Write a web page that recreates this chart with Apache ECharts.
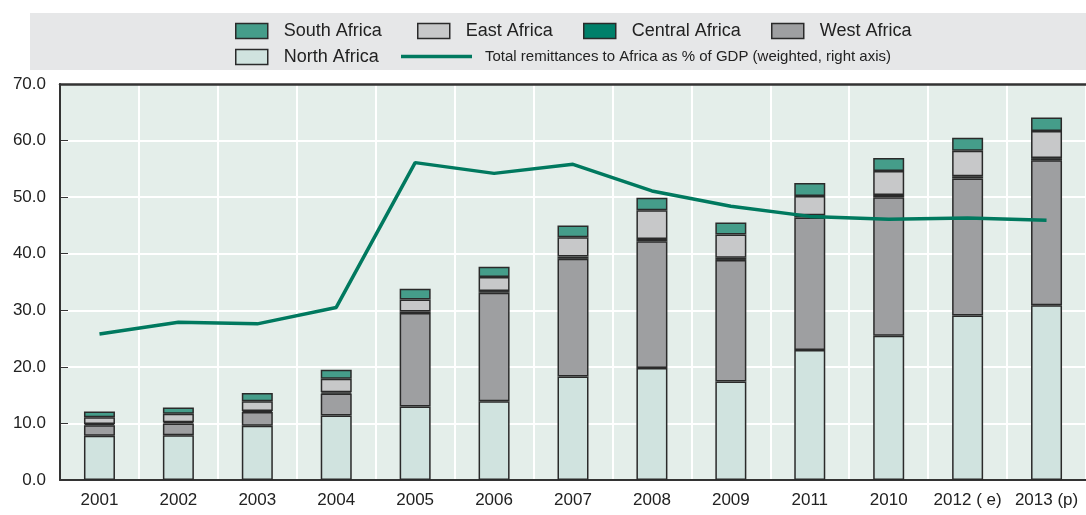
<!DOCTYPE html>
<html>
<head>
    <meta http-equiv="Content-Type" content="text/html; charset=utf-8" />
    <style type="text/css">
        body, html, #chart {width: 100%; height: 100%; overflow: hidden; margin: 0; background: #fff;}
    </style>
    <title>Remittances to Africa</title>
</head>
<body>
<div id="chart"></div>
<script src="https://cdn.jsdelivr.net/npm/echarts@6/dist/echarts.min.js"></script>
<script type="text/javascript">
    var years = ['2001', '2002', '2003', '2004', '2005', '2006', '2007', '2008', '2009', '2011', '2010', '2012 ( e)', '2013 (p)'];
    var northAfrica   = [7.8, 7.9, 9.6, 11.4, 13.0, 13.9, 18.3, 19.8, 17.4, 23.0, 25.5, 29.1, 30.9];
    var westAfrica    = [1.9, 2.1, 2.4, 3.9, 16.5, 19.2, 20.8, 22.4, 21.5, 23.4, 24.5, 24.2, 25.6];
    var centralAfrica = [0.2, 0.2, 0.2, 0.2, 0.3, 0.3, 0.4, 0.4, 0.4, 0.4, 0.4, 0.4, 0.4];
    var eastAfrica    = [1.2, 1.5, 1.7, 2.4, 2.1, 2.5, 3.4, 5.1, 4.1, 3.4, 4.2, 4.5, 4.8];
    var southAfrica   = [1.0, 1.1, 1.5, 1.6, 1.9, 1.8, 2.1, 2.2, 2.1, 2.3, 2.3, 2.3, 2.4];
    var totalPctGdp   = [25.8, 27.9, 27.6, 30.5, 56.1, 54.2, 55.8, 51.1, 48.4, 46.6, 46.1, 46.3, 45.9];
    var yTicks = [0, 10, 20, 30, 40, 50, 60, 70];

    var font = '"Liberation Sans", Arial, sans-serif';
    var lineName = 'Total remittances to Africa as % of GDP (weighted, right axis)';

    function bar(name, data, color) {
        return {
            name: name,
            type: 'bar',
            stack: 'total',
            barWidth: 31,
            data: data,
            itemStyle: {color: color, borderColor: '#2a2a2a', borderWidth: 1.5}
        };
    }

    // one legend per item so each sits where the original puts it
    function legendAt(name, left, top, size) {
        var isLine = name === lineName;
        return {
            data: [name],
            left: left,
            top: top,
            icon: 'rect',
            itemWidth: isLine ? 71 : 32,
            itemHeight: isLine ? 3.5 : 15,
            padding: 0,
            selectedMode: false,
            itemStyle: isLine ? {color: '#00795f', borderWidth: 0} : {borderColor: '#2a2a2a', borderWidth: 1.5},
            textStyle: {fontFamily: font, fontSize: size, color: '#222', padding: [0, 0, 0, isLine ? 8 : 11]}
        };
    }

    var myChart = echarts.init(document.getElementById('chart'));
    myChart.setOption({
        animation: false,
        graphic: [{
            type: 'rect',
            shape: {x: 30, y: 13, width: 1070, height: 57},
            style: {fill: '#e6e7e8'},
            z: -10
        }],
        legend: [
            legendAt('South Africa', 235, 22, 18),
            legendAt('East Africa', 417, 22, 18),
            legendAt('Central Africa', 583, 22, 18),
            legendAt('West Africa', 771, 22, 18),
            legendAt('North Africa', 235, 48, 18),
            legendAt(lineName, 401, 49, 15)
        ],
        grid: {
            left: 60, right: -2, top: 84, bottom: 35,
            show: true,
            backgroundColor: '#e4eeea',
            borderWidth: 0
        },
        xAxis: [{
            type: 'category',
            data: years,
            boundaryGap: true,
            axisLine: {lineStyle: {color: '#333', width: 2}},
            axisTick: {inside: true, length: 6, interval: 0, lineStyle: {color: '#333'}},
            splitLine: {show: true, interval: 0, lineStyle: {color: '#fff', width: 2}},
            axisLabel: {interval: 0, fontFamily: font, fontSize: 17, color: '#222', margin: 12}
        }, {
            // top frame line of the plot
            type: 'category',
            data: years,
            position: 'top',
            axisLine: {show: true, onZero: false, lineStyle: {color: '#333', width: 2.5}},
            axisTick: {show: false},
            axisLabel: {show: false}
        }],
        yAxis: [{
            type: 'value',
            min: yTicks[0],
            max: yTicks[yTicks.length - 1],
            interval: 10,
            axisLine: {show: true, lineStyle: {color: '#333', width: 2}},
            axisTick: {show: true, inside: true, length: 8, lineStyle: {color: '#333'}},
            splitLine: {lineStyle: {color: '#fff', width: 2}},
            axisLabel: {
                fontFamily: font, fontSize: 17, color: '#222', margin: 14,
                formatter: function (v) { return v.toFixed(1); }
            }
        }, {
            type: 'value',
            min: 0,
            max: 70,
            show: false
        }],
        series: [
            bar('North Africa', northAfrica, '#d0e3df'),
            bar('West Africa', westAfrica, '#9e9fa1'),
            bar('Central Africa', centralAfrica, '#00806a'),
            bar('East Africa', eastAfrica, '#c7c8c9'),
            bar('South Africa', southAfrica, '#459d8a'),
            {
                name: lineName,
                type: 'line',
                yAxisIndex: 1,
                data: totalPctGdp,
                symbol: 'none',
                z: 5,
                lineStyle: {color: '#00795f', width: 3.5},
                itemStyle: {color: '#00795f'}
            }
        ]
    });
</script>
</body>
</html>
